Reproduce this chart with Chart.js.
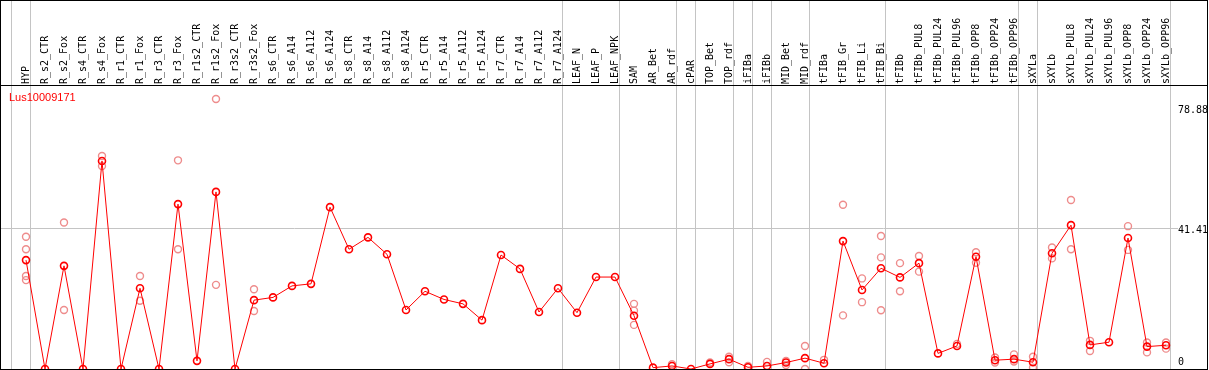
<!DOCTYPE html>
<html lang="en">
<head>
<meta charset="UTF-8">
<title>Lus10009171</title>
<script src="https://cdn.jsdelivr.net/npm/chart.js"></script>
<style>
  body { margin: 0; background: #fff; }
</style>
</head>
<body>
<canvas id="chart" width="1209" height="370"></canvas>
<script>
const geneName = 'Lus10009171';

const categories = [
  'HYP', 'R_s2_CTR', 'R_s2_Fox', 'R_s4_CTR', 'R_s4_Fox', 'R_r1_CTR', 'R_r1_Fox',
  'R_r3_CTR', 'R_r3_Fox', 'R_r1s2_CTR', 'R_r1s2_Fox', 'R_r3s2_CTR', 'R_r3s2_Fox',
  'R_s6_CTR', 'R_s6_A14', 'R_s6_A112', 'R_s6_A124', 'R_s8_CTR', 'R_s8_A14',
  'R_s8_A112', 'R_s8_A124', 'R_r5_CTR', 'R_r5_A14', 'R_r5_A112', 'R_r5_A124',
  'R_r7_CTR', 'R_r7_A14', 'R_r7_A112', 'R_r7_A124', 'LEAF_N', 'LEAF_P', 'LEAF_NPK',
  'SAM', 'AR_Bet', 'AR_rdf', 'cPAR', 'TOP_Bet', 'TOP_rdf', 'iFIBa', 'iFIBb',
  'MID_Bet', 'MID_rdf', 'tFIBa', 'tFIB_Gr', 'tFIB_Li', 'tFIB_Bi', 'tFIBb',
  'tFIBb_PUL8', 'tFIBb_PUL24', 'tFIBb_PUL96', 'tFIBb_OPP8', 'tFIBb_OPP24', 'tFIBb_OPP96',
  'sXYLa', 'sXYLb', 'sXYLb_PUL8', 'sXYLb_PUL24', 'sXYLb_PUL96', 'sXYLb_OPP8',
  'sXYLb_OPP24', 'sXYLb_OPP96'
];

// mean expression per sample
const means = [
  32.1, 0, 30.4, 0, 61.3, 0, 23.8, 0, 48.6, 2.4, 52.2, 0, 20.3,
  21.1, 24.5, 25.1, 47.7, 35.3, 38.8, 33.8, 17.4, 22.9, 20.5, 19.2, 14.4,
  33.6, 29.5, 16.8, 23.8, 16.6, 27.1, 27.1,
  15.7, 0.4, 0.9, 0, 1.5, 2.9, 0.5, 0.9, 1.9, 3.2, 1.7,
  37.7, 23.3, 29.7, 27.0, 31.2, 4.6, 6.8, 33.1, 2.6, 2.9,
  2.0, 34.1, 42.4, 7.1, 7.9, 38.6, 6.6, 7.0
];

// individual replicates per sample (same order as categories)
const replicates = [
  [39.0, 35.3, 27.4, 26.2], [], [43.2, 17.4], [], [62.8, 59.8], [], [27.4, 20.1],
  [], [61.5, 35.3], [], [79.6, 24.8], [], [23.5, 17.1],
  [], [], [], [], [], [], [], [], [], [], [], [],
  [], [], [], [], [], [], [],
  [19.2, 17.2, 13.0], [], [1.4], [], [1.9], [3.6, 2.0], [0.9], [2.1],
  [2.4, 1.2], [6.8, 0.0], [2.7], [48.4, 15.8], [26.7, 19.7], [39.2, 32.9, 17.3], [31.2, 22.9],
  [33.3, 28.7], [], [7.4], [34.4, 31.3], [3.4, 1.9], [4.3, 2.2],
  [3.6, 0.4], [35.8, 32.6], [49.8, 35.3], [8.3, 5.3], [], [42.1, 35.1],
  [7.8, 4.9], [7.8, 6.0]
];

// last sample index of each tissue group (vertical separators)
const groupEnds = [-1, 0, 28, 31, 34, 35, 37, 38, 39, 41, 45, 52, 53, 60];

const yTicks = [0, 41.41, 78.88];

const monoFont = { family: '"DejaVu Sans Mono", monospace', size: 10 };

// axes take no room and add no label overflow padding
const noPad = s => { s.paddingLeft = s.paddingRight = s.paddingTop = s.paddingBottom = 0; };
const fitH = h => s => { s.height = h; noPad(s); };
const fitW = w => s => { s.width = w; noPad(s); };

const framePlugin = {
  id: 'frame',
  afterDraw(chart) {
    const ctx = chart.ctx;
    ctx.save();
    ctx.strokeStyle = '#000';
    ctx.lineWidth = 1;
    ctx.strokeRect(0.5, 0.5, 1207, 369);
    ctx.beginPath();
    ctx.moveTo(0, 85.5);
    ctx.lineTo(1208, 85.5);
    ctx.stroke();
    ctx.fillStyle = '#ff0000';
    ctx.font = '11px "Liberation Sans", Arial, sans-serif';
    ctx.textBaseline = 'alphabetic';
    ctx.fillText(geneName, 9, 101);
    ctx.restore();
  }
};

const xMin = -26 / 19;
const xMax = xMin + 1178 / 19;

new Chart(document.getElementById('chart'), {
  type: 'line',
  data: {
    datasets: [
      {
        label: geneName,
        data: means.map((v, i) => ({ x: i, y: v })),
        borderColor: '#ff0000',
        borderWidth: 1,
        pointRadius: 3.5,
        pointBorderWidth: 1.6,
        pointBorderColor: '#ff0000',
        pointBackgroundColor: 'rgba(0,0,0,0)',
        clip: false
      },
      {
        label: 'replicates',
        data: replicates.flatMap((vals, i) => vals.map(v => ({ x: i, y: v }))),
        showLine: false,
        pointRadius: 3.5,
        pointBorderWidth: 1.4,
        pointBorderColor: 'rgb(238,140,140)',
        pointBackgroundColor: 'rgba(0,0,0,0)',
        clip: false
      }
    ]
  },
  options: {
    responsive: false,
    animation: false,
    devicePixelRatio: 1,
    layout: { autoPadding: false, padding: { left: 0, top: 0, right: 1, bottom: 1 } },
    plugins: { legend: { display: false }, tooltip: { enabled: false } },
    scales: {
      x: {
        type: 'linear', position: 'top', min: xMin, max: xMax,
        afterBuildTicks: s => { s.ticks = categories.map((c, i) => ({ value: i })); },
        afterFit: fitH(0),
        grid: { display: false, drawTicks: false },
        border: { display: false },
        ticks: {
          autoSkip: false, minRotation: 90, maxRotation: 90, mirror: true, padding: 84,
          color: '#000', font: monoFont,
          callback: (v, i) => categories[i]
        }
      },
      xg: {
        type: 'linear', position: 'bottom', min: xMin, max: xMax,
        afterBuildTicks: s => { s.ticks = groupEnds.map(g => ({ value: g + 0.25 })); },
        afterFit: fitH(0),
        grid: { color: '#c4c4c4', drawTicks: false },
        border: { display: false },
        ticks: { display: false }
      },
      y: {
        type: 'linear', position: 'right', min: 0, max: 108.76,
        afterBuildTicks: s => { s.ticks = [{ value: 41.41 }]; },
        afterFit: fitW(0),
        grid: { color: '#c4c4c4', drawTicks: false },
        border: { display: false },
        ticks: { display: false }
      },
      yl: {
        type: 'linear', position: 'right', min: -2.04, max: 113.63,
        afterBuildTicks: s => { s.ticks = yTicks.map(v => ({ value: v })); },
        afterFit: fitW(30),
        grid: { display: false, drawTicks: false },
        border: { display: false },
        ticks: { padding: 0, color: '#000', font: monoFont, callback: v => String(v) }
      }
    }
  },
  plugins: [framePlugin]
});
</script>
</body>
</html>
